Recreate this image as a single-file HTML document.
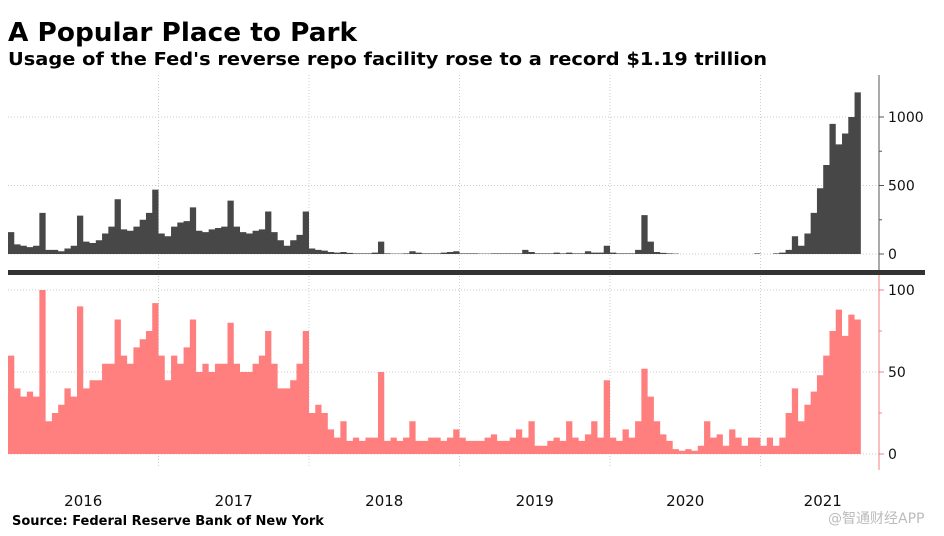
<!DOCTYPE html>
<html><head><meta charset="utf-8"><style>
html,body{margin:0;padding:0;background:#fff}
svg{display:block}
text{font-family:"DejaVu Sans","Liberation Sans",sans-serif}
</style></head><body>
<svg id="chart" width="944" height="536" viewBox="0 0 944 536">
<text x="8" y="41" font-size="26" font-weight="bold" textLength="349" lengthAdjust="spacingAndGlyphs">A Popular Place to Park</text>
<text x="8" y="65" font-size="18" font-weight="bold" textLength="759" lengthAdjust="spacingAndGlyphs">Usage of the Fed's reverse repo facility rose to a record $1.19 trillion</text>
<g id="grid"></g>
<g id="marks"></g>
<g id="axes"></g>
<text x="12" y="525" font-size="13" font-weight="bold">Source: Federal Reserve Bank of New York</text>
<text x="828" y="523" font-size="14" fill="#bbb" font-family="Liberation Sans, Noto Sans CJK SC, sans-serif">@智通财经APP</text>
</svg>
<script>
const years = ["2016","2017","2018","2019","2020","2021"];
const topTicks = [0,500,1000];
const botTicks = [0,50,100];
// semi-monthly values, starting Jan 2016
const usage2016 = [160,70,60,50,60,300,30,30,20,40,60,280,90,80,100,150,200,400,180,170,200,250,300,470];
const usage2017 = [150,130,200,230,240,340,170,160,180,190,200,390,200,160,150,170,180,310,160,100,60,100,140,310];
const usage2018 = [40,30,25,15,10,15,8,5,5,5,10,90,5,3,3,5,20,10,5,5,5,10,15,20];
const usage2019 = [5,5,5,3,3,5,5,5,5,5,30,15,5,5,5,10,5,10,5,5,20,10,10,60];
const usage2020 = [10,5,5,5,30,284,90,15,8,5,3,0,0,0,0,0,0,0,0,0,0,0,0,5];
const usage2021 = [0,0,5,10,30,130,60,150,300,480,650,950,800,880,1000,1180];
const share2016 = [60,40,35,38,35,100,20,25,30,40,35,90,40,45,45,55,55,82,60,55,65,70,75,92];
const share2017 = [60,45,60,55,65,82,50,55,50,55,55,80,55,50,50,55,60,75,55,40,40,45,55,75];
const share2018 = [25,30,25,15,10,20,8,10,8,10,10,50,8,10,8,10,20,8,8,10,10,8,10,15];
const share2019 = [10,8,8,8,10,12,8,8,10,15,10,20,5,5,8,10,8,20,10,8,12,20,10,45];
const share2020 = [10,8,15,10,20,52,35,20,12,8,3,2,3,2,5,20,10,12,5,15,10,5,10,10];
const share2021 = [5,10,5,10,25,40,20,30,38,48,60,75,88,72,85,82];

const usage = [].concat(usage2016,usage2017,usage2018,usage2019,usage2020,usage2021);
const share = [].concat(share2016,share2017,share2018,share2019,share2020,share2021);
const NS="http://www.w3.org/2000/svg";
const x0=8, yearW=150.5, axisX=879;
const xT = t => x0 + t*yearW;
const yTop = v => 254 - v*0.137;
const yBot = v => 454 - v*1.64;
function mk(tag, attrs, parent){const e=document.createElementNS(NS,tag);for(const k in attrs)e.setAttribute(k,attrs[k]);parent.appendChild(e);return e;}
const grid=document.getElementById('grid'), marks=document.getElementById('marks'), axes=document.getElementById('axes');

for(let i=1;i<years.length;i++){
  const l=mk('line',{x1:xT(i),x2:xT(i),y1:75,y2:468,stroke:'#ccc','stroke-dasharray':'1 2'},grid);
  
  
}
topTicks.forEach(v=>{
  const l=mk('line',{x1:x0,x2:axisX,y1:yTop(v),y2:yTop(v),stroke:'#ccc','stroke-dasharray':'1 2'},grid);
  
  
});
botTicks.forEach(v=>{
  const l=mk('line',{x1:x0,x2:axisX,y1:yBot(v),y2:yBot(v),stroke:'#ccc','stroke-dasharray':'1 2'},grid);
  
  
});

function stepPath(arr, yf){
  let d=`M${xT(0)},${yf(0)}`;
  arr.forEach((v,i)=>{const xa=xT(i/24), xb=xT((i+1)/24); d+=` L${xa},${yf(v)} L${xb},${yf(v)}`;});
  d+=` L${xT(arr.length/24)},${yf(0)} Z`;
  return d;
}
const a1=mk('path',{d:stepPath(usage,yTop),fill:'#474747'},marks);


const a2=mk('path',{d:stepPath(share,yBot),fill:'#ff7f7f'},marks);



const sep=mk('rect',{x:8,y:270,width:917,height:5,fill:'#333'},axes);


const ax1=mk('line',{x1:axisX,x2:axisX,y1:75,y2:270,stroke:'#555'},axes);


const ax2=mk('line',{x1:axisX,x2:axisX,y1:275,y2:470,stroke:'#f08080'},axes);


topTicks.forEach(v=>{
  mk('line',{x1:axisX,x2:axisX+5,y1:yTop(v),y2:yTop(v),stroke:'#555'},axes);
  const t=mk('text',{x:axisX+9,y:yTop(v)+5,'font-size':14,fill:'#111'},axes);
  t.textContent=v;
  
  
});
[250,750].forEach(v=>mk('line',{x1:axisX,x2:axisX+3,y1:yTop(v),y2:yTop(v),stroke:'#555'},axes));
botTicks.forEach(v=>{
  mk('line',{x1:axisX,x2:axisX+5,y1:yBot(v),y2:yBot(v),stroke:'#f08080'},axes);
  const t=mk('text',{x:axisX+9,y:yBot(v)+5,'font-size':14,fill:'#111'},axes);
  t.textContent=v;
  
  
});
[25,75].forEach(v=>mk('line',{x1:axisX,x2:axisX+3,y1:yBot(v),y2:yBot(v),stroke:'#f08080'},axes));
years.forEach((y,i)=>{
  const cx=Math.min(xT(i+0.5),(xT(i)+885)/2);
  const t=mk('text',{x:cx,y:506,'font-size':15,fill:'#111','text-anchor':'middle'},axes);
  t.textContent=y;
  
  
});
</script>
</body></html>
